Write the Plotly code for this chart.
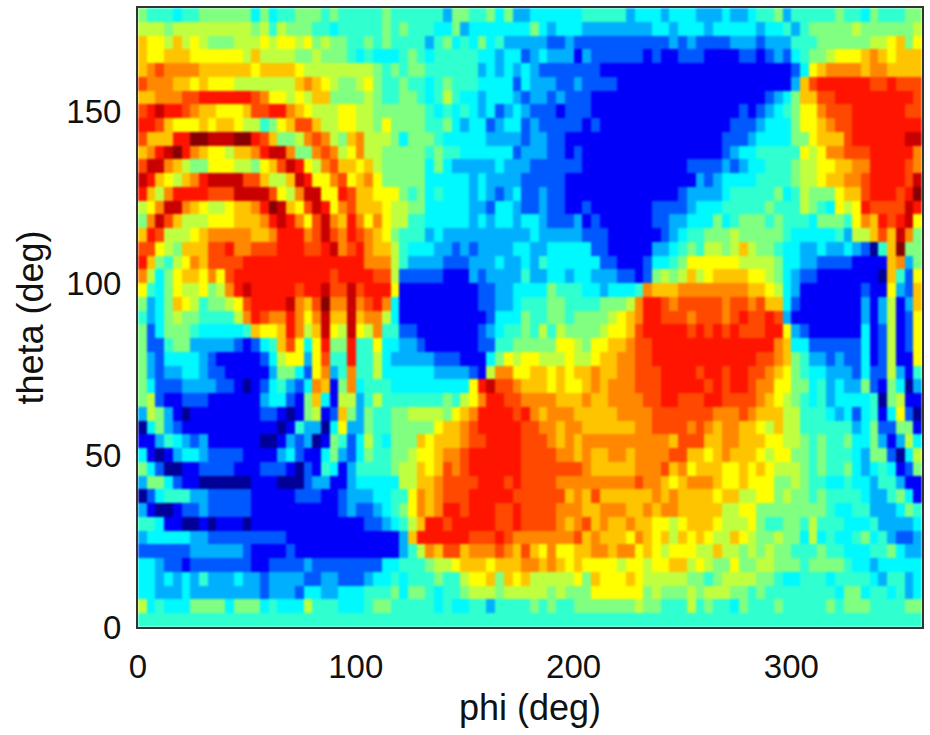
import plotly.graph_objects as go

PHI = [2 + 4 * i for i in range(90)]
THETA_TOP_DOWN = [178 - 4 * i for i in range(45)]
X_TICKS = [0, 100, 200, 300]
Y_TICKS = [0, 50, 100, 150]

# Colour level of each cell (hex digit: 0 navy, 1 blue, 4 cyan, 8 yellow, c red, e dark red).
# One string per row, from the top row of the picture to the bottom one.
CELLS_LEFT = [
"6555455666 6664645566 6565555565 5555",
"7776777777 7776757666 5545555565 6555",
"9887978766 6777878878 6766556565 5553",
"9889998888 8879777766 7666545444 5654",
"9abaaaa999 9998999987 7777777656 5665",
"baaa998988 877777779a 9876678655 6554",
"99aaabbccc cccba88787 9966667655 6654",
"bcdccba998 889bbcca98 7778877666 6665",
"ccb9888989 98775689bb 9778877686 6665",
"b999cceedd deecb9667a ba769a7776 4666",
"9acdeca988 799acdda66 aba78a7766 6665",
"bdda976688 877689bdc8 7ab9989766 6664",
"dc9879acdd ddbb9779dc 88ab89a866 6664",
"c97accccbb bddddb87ad d88cb99888 6564",
"78adda9877 899aced98b dc8ab99987 7664",
"6adb977788 8999acdca8 bda9ca8a87 7554",
"9cb77789aa aaa99accca bdbacba986 5553",
"bb876999bb caabbbcccb bcdabca997 5444",
"c96578a9bb bbcccccccc ccccccaaa7 5333",
"a7468998a8 bccccccccc ccbccccbb7 2222",
"8546877867 acdcccccbc cdbbdbccc8 1111",
"6346987566 78bccccda9 beaadabca4 1111",
"5346766555 57acbaaca8 ad99d9aa74 1111",
"6246665444 4459889ca7 9d87d87a55 2211",
"6225663333 3212459b84 8c66c55844 3321",
"6324444321 1111247883 8b55c55743 3333",
"6323344322 1111136642 8a35a55744 4444",
"6422233332 2101245324 a916a45554 4444",
"6721122211 1111344216 9417735755 5555",
"3763101111 1111221016 7129636556 6777",
"0463211111 1111110153 3048336556 6666",
"1135432311 1111001323 0165247546 6698",
"4101344322 2211113421 1463246556 6788",
"6420011222 2111222102 1541355556 7798",
"3664211000 0001110002 3311344444 7799",
"0245553322 2221111122 2112333445 58a9",
"3100122322 2221111111 1112322345 68a9",
"5541100101 1101111111 1111112234 579c",
"3444443322 2222222111 1111111111 39cc",
"2222223333 3321111211 1111111111 357a",
"4432212222 2221122223 2222222244 5556",
"4434343533 3433233332 2332223445 4555",
"4433343333 3333233324 4334445556 4665",
"7454446666 4666454447 5554445665 5555",
"5555555555 5555555555 5555555555 5555",
]
CELLS_MIDDLE = [
"5 3 6 6 5 5 6 4 6 3 3 4 4 4 4 4 4 5 5 5 5 5 3 4 4 4 3",
"4 4 6 3 4 4 4 4 4 4 4 6 4 3 4 4 4 3 3 3 3 3 3 3 3 4 4",
"5 6 4 5 4 6 4 5 3 3 3 3 3 2 2 3 2 2 2 2 2 2 2 2 2 2 2",
"5 5 5 5 5 4 4 3 4 4 2 3 4 3 3 3 1 3 2 2 2 2 2 2 1 2 1",
"5 5 5 5 5 3 4 3 4 3 4 3 2 2 2 2 2 2 2 1 1 1 1 1 1 1 1",
"5 6 5 5 5 4 4 4 4 2 4 3 3 3 2 2 3 2 2 2 2 1 1 1 1 1 1",
"5 7 5 4 4 3 4 4 4 3 2 3 3 2 3 2 2 2 1 1 1 1 1 1 1 1 1",
"4 5 4 5 4 3 4 2 3 4 3 2 2 2 1 2 2 2 1 1 1 1 1 1 1 1 1",
"5 6 4 3 4 4 2 3 4 4 2 3 2 2 2 2 2 1 2 1 1 1 1 1 1 1 1",
"5 4 4 4 4 4 3 3 3 3 2 3 3 2 2 1 1 1 1 1 1 1 1 1 1 1 1",
"6 5 5 4 4 4 4 4 4 2 3 3 3 2 2 1 2 1 1 1 1 1 1 1 1 1 1",
"6 4 3 3 3 3 3 4 3 3 3 2 2 2 2 2 2 1 1 1 1 1 1 1 1 1 1",
"4 4 4 4 3 4 3 3 3 3 2 2 2 2 2 1 1 1 1 1 1 1 1 1 1 1 1",
"5 4 4 4 3 4 3 2 3 4 2 2 3 2 2 1 1 1 1 1 1 1 1 1 1 1 1",
"4 4 4 4 3 3 2 4 4 3 2 2 3 2 2 1 1 2 1 1 1 1 1 1 1 2 2",
"4 4 4 4 3 4 3 4 4 3 4 4 3 2 2 2 3 1 2 1 1 1 1 1 1 2 2",
"4 3 3 3 3 3 3 3 3 3 3 4 3 3 3 3 3 2 2 2 1 1 1 1 1 1 2",
"3 3 2 3 2 3 3 3 3 4 4 3 3 4 4 4 4 4 2 2 1 1 1 1 1 3 3",
"3 2 2 2 3 3 3 4 3 3 4 3 5 4 4 4 4 4 4 2 2 1 1 1 2 4 4",
"2 1 1 1 3 2 3 3 3 3 5 3 3 4 4 3 4 4 3 3 3 2 2 1 2 6 7",
"1 1 1 1 1 2 2 3 3 4 4 4 4 6 5 5 5 4 4 3 4 4 4 5 a 9 9",
"1 1 1 1 1 2 2 3 3 4 5 5 5 6 6 5 5 5 5 6 6 6 7 a c c b",
"1 1 1 1 1 1 2 4 4 4 6 5 5 6 6 5 6 6 6 6 7 8 9 a c c b",
"1 1 1 1 1 2 3 4 5 5 6 5 7 5 7 6 6 6 6 7 8 8 9 b c c c",
"1 1 1 1 1 2 2 5 5 6 6 6 6 6 8 8 7 6 8 8 9 9 a b b c c",
"2 2 2 1 1 1 4 6 8 7 8 8 7 7 7 8 7 7 8 9 9 a a b b c c",
"3 3 3 3 2 1 7 a a 8 8 9 9 8 9 8 9 9 a 9 9 a a b b b c",
"4 4 4 4 8 c d b b a 9 9 9 8 9 8 8 9 a 9 a a a b b b c",
"5 6 5 7 8 a c c b b a a a a 9 9 9 a 9 9 a a a a b b c",
"7 6 8 9 a c c c c b c a 9 a a a 9 9 9 9 9 a a a a b b",
"8 9 9 a b c c c c c b b a a 9 a a 9 9 9 9 9 9 a a b b",
"9 9 9 a b b c c c c b b b a 9 a 9 a a a a a a a a a a",
"9 a a b c c c c c c b b b b a a 9 a 9 9 a a 9 a a a a",
"9 b a b c c c c c c b b b b b b b a 9 9 9 9 9 a a a b",
"a b b b b c c c b c b b b b a a a a a a a a a b a a 9",
"a b b b c c c c c b b b b b b 9 a 9 b 9 9 9 9 9 9 a 9",
"a c c b c c c b b c b b b b a a a 9 9 a a a 9 9 a 9 a",
"c b c c c c c b b c b b b b a 9 a b 9 a 9 9 a 9 9 8 8",
"c c c c b b b c b a a a a a a a b 9 a 9 9 9 8 a 9 8 9",
"9 b b 9 a a a b a 9 b 9 8 a 8 8 9 9 a a 9 a a 8 9 8 7",
"7 7 8 9 9 9 8 9 9 9 a a 9 a 9 8 9 8 8 8 8 7 8 8 7 8 8",
"6 5 5 7 8 8 9 6 9 8 9 7 7 7 7 7 8 6 9 8 8 8 9 8 7 7 7",
"4 5 5 6 7 7 7 6 7 7 7 7 7 6 7 6 6 6 8 8 8 8 8 8 6 7 6",
"4 5 4 4 5 5 3 5 5 5 5 6 5 6 5 5 6 6 6 6 6 6 6 7 6 6 5",
"5 5 5 5 5 5 5 5 5 5 5 5 5 5 5 5 5 5 5 5 5 5 5 5 5 5 5",
]
CELLS_RIGHT = [
"4 4 4 3 3 3 4 3 3 4 5 5 6 3 5 5 5 5 5 6 5 5 4 6 5 5 5 6 6",
"3 4 4 4 3 4 4 4 4 4 3 4 4 5 3 5 6 6 6 6 6 7 6 6 6 6 6 6 7",
"3 2 3 2 2 2 2 3 3 3 2 3 3 3 5 5 5 6 6 6 6 6 6 7 7 8 9 6 8",
"1 2 2 2 1 1 1 1 2 2 1 2 3 2 4 5 6 6 7 8 8 8 9 a 9 8 9 9 9",
"1 1 1 1 1 1 1 1 1 1 1 1 1 1 2 4 8 9 a a a a 9 a a 9 9 9 9",
"1 1 1 1 1 1 1 1 1 1 1 1 1 1 3 9 b c c c c c c b b c b b b",
"1 1 1 1 1 1 1 1 1 1 1 2 3 4 6 9 9 b b c c c c c c c c c b",
"1 1 1 1 1 1 1 1 2 1 2 3 4 5 6 8 8 a b b b c c c c c c b b",
"1 1 1 1 1 1 1 2 2 2 3 4 4 4 6 8 8 9 a b b c c c c c c c c",
"1 1 1 1 1 1 2 2 2 3 4 4 4 4 6 6 8 9 9 9 b c c c c c c d d",
"1 1 1 1 1 1 2 3 4 4 5 5 5 5 5 8 7 8 a a b b b c c c c c a",
"1 1 2 2 2 2 3 2 3 4 4 5 5 5 6 7 7 8 8 9 9 a a c c c c b a",
"1 1 1 3 2 3 4 4 4 4 5 5 5 5 6 7 7 8 9 9 a a b c c c c b d",
"1 2 3 3 3 3 4 5 5 5 5 5 6 4 5 7 6 6 6 8 9 9 b c c c b c e",
"2 2 3 4 4 4 5 5 5 5 5 6 5 5 5 7 6 5 4 8 7 8 c b b b b d c",
"3 3 4 4 4 6 4 5 6 6 6 5 6 5 5 5 4 6 6 6 5 8 a 9 c b c d 8",
"3 4 5 5 6 6 6 7 6 6 6 6 6 5 4 4 4 4 4 5 3 7 7 9 b 9 d a 6",
"4 5 6 5 7 7 6 7 9 7 6 6 5 4 4 3 3 4 3 3 4 3 2 0 5 9 e 6 6",
"5 6 8 8 8 8 8 8 7 7 7 7 6 4 4 3 3 2 2 2 2 1 1 1 1 9 a 3 6",
"6 7 9 7 8 9 9 9 9 8 8 7 6 4 3 2 2 1 1 1 1 1 1 1 0 9 5 2 8",
"9 a a a a a a a a 9 9 8 7 4 3 1 1 1 1 1 1 1 2 1 1 8 3 2 9",
"a b b b b b a b b a b 9 9 4 2 1 1 1 1 1 1 1 3 1 3 7 1 3 9",
"b b a b b b a b c b b c b 3 1 1 1 1 1 1 1 1 3 1 3 7 1 2 8",
"c c b c b c b c b b b c c 8 3 2 1 1 1 1 1 1 4 1 2 7 1 2 8",
"c c c c c c c c c c c c a 9 4 4 2 2 2 2 2 2 4 1 2 7 1 2 8",
"c c c c c c c c c c b b a 9 6 5 3 3 2 3 2 2 4 1 2 7 1 1 8",
"c c c b c c b c c b b a 9 8 6 5 4 4 3 3 3 2 4 2 2 7 3 1 5",
"c c c c b c b c c b a a 8 8 6 6 4 5 3 4 3 3 6 2 1 6 4 0 3",
"c b b b c c b b b b a 9 8 7 6 5 4 5 3 4 4 4 4 5 0 6 7 1 1",
"b b b b b a a a b a 9 9 9 7 7 5 5 5 4 3 4 2 4 5 1 4 8 2 0",
"b b a b a 9 a a 9 9 8 7 9 7 7 5 5 5 5 5 5 3 4 6 2 2 6 6 1",
"9 b b b 9 9 a a 9 9 9 8 8 7 7 6 5 6 5 5 6 4 4 6 3 1 3 7 4",
"b b 9 9 8 9 a 9 9 9 8 7 8 8 6 6 5 6 5 5 5 4 3 6 6 2 0 4 7",
"9 a 8 9 9 9 8 8 9 8 9 8 7 7 7 6 5 6 5 5 6 4 3 4 5 4 1 2 6",
"8 9 a a a 9 8 8 9 8 8 8 6 6 7 6 5 5 4 4 5 4 4 3 5 5 3 1 1",
"a 9 9 9 9 8 9 9 7 7 8 8 6 7 6 6 5 6 5 5 5 5 4 3 3 5 6 4 1",
"a 9 9 9 9 9 7 7 8 8 6 6 6 6 6 6 6 6 5 4 4 5 5 3 3 3 4 6 5",
"7 8 9 9 9 8 7 7 7 8 6 5 5 6 6 5 7 5 5 5 4 4 4 5 3 3 3 3 4",
"7 9 8 9 8 7 7 9 8 7 6 6 7 6 6 4 7 4 5 4 4 5 6 4 5 3 2 2 3",
"8 8 8 7 7 9 7 7 6 7 6 7 6 6 5 5 5 6 5 5 4 4 4 5 5 6 4 3 3",
"9 9 7 8 7 6 6 8 6 6 7 7 6 6 6 5 6 6 6 6 5 4 4 3 4 4 4 4 4",
"7 7 6 6 5 6 7 7 7 7 6 6 5 4 4 5 5 5 4 5 5 5 5 4 3 5 5 3 4",
"6 6 7 6 7 7 7 6 6 5 6 5 5 5 5 5 5 5 5 4 6 6 4 5 5 4 5 3 4",
"5 5 7 5 6 5 5 4 6 5 5 5 6 5 5 5 5 5 6 5 6 6 6 5 5 5 5 6 6",
"5 5 5 5 5 5 5 5 5 5 5 5 5 5 5 5 5 5 5 5 5 5 5 5 5 5 5 5 5",
]
LEVEL_COLOURS = ["#000098", "#0000fa", "#0058ff", "#00b0ff", "#00f8ff", "#30ffd0", "#80ff80",
                 "#c0ff40", "#ffff00", "#ffc400", "#ff8800", "#ff4800", "#ff1400", "#c80000", "#880000"]

z = []
for a, b, c in zip(CELLS_LEFT, CELLS_MIDDLE, CELLS_RIGHT):
    row = (a + b + c).replace(" ", "")
    if len(row) != len(PHI):
        raise ValueError(f"row length {len(row)}: {a}")
    z.append([int(ch, 16) for ch in row])

n = len(LEVEL_COLOURS) - 1
fig = go.Figure(go.Heatmap(
    x=PHI, y=THETA_TOP_DOWN, z=z, zmin=0, zmax=n, showscale=False,
    colorscale=[[i / n, col] for i, col in enumerate(LEVEL_COLOURS)],
    hoverinfo="skip",
))
tick_font = dict(family="Liberation Sans", size=33, color="#111111")
title_font = dict(family="Liberation Sans", size=36, color="#111111")
axis = dict(showgrid=False, zeroline=False, showline=True, linecolor="#333333", linewidth=2,
            mirror=True, ticks="", tickfont=tick_font)
fig.update_xaxes(range=[0, 360], tickvals=X_TICKS, ticklabelstandoff=9,
                 title=dict(text="phi (deg)", font=title_font, standoff=11), **axis)
fig.update_yaxes(range=[0, 180], tickvals=Y_TICKS, ticklabelstandoff=8,
                 title=dict(text="theta (deg)", font=title_font, standoff=12), **axis)
fig.update_layout(width=930, height=735, margin=dict(l=138, r=8, t=6, b=108),
                  paper_bgcolor="white", plot_bgcolor="white")
fig.write_html(
    "out.html",
    config={"displayModeBar": False},
    post_script="document.body.style.margin='0';"
                "document.querySelectorAll('.heatmaplayer image').forEach(function(i){i.style.filter='blur(0.8px)';});",
)
